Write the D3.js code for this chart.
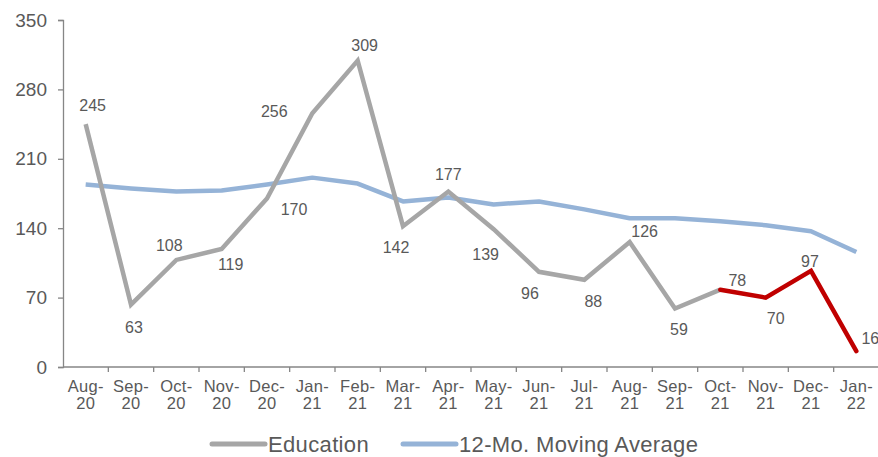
<!DOCTYPE html>
<html>
<head>
<meta charset="utf-8">
<script src="https://cdn.jsdelivr.net/npm/d3@7"></script>
<style>
  body { margin: 0; background: #fff; }
  svg { display: block; font-family: 'Liberation Sans', Arial, sans-serif; }
</style>
</head>
<body>
<div id="chart"></div>
<script>
// data
const months = ['Aug-20', 'Sep-20', 'Oct-20', 'Nov-20', 'Dec-20', 'Jan-21', 'Feb-21', 'Mar-21', 'Apr-21',
    'May-21', 'Jun-21', 'Jul-21', 'Aug-21', 'Sep-21', 'Oct-21', 'Nov-21', 'Dec-21', 'Jan-22'];
const education = [245, 63, 108, 119, 170, 256, 309, 142, 177, 139, 96, 88, 126, 59, 78, 70, 97, 16];
const movingAvg = [184, 180, 177, 178, 184, 191, 185, 167, 171, 164, 167, 159, 150, 150, 147, 143, 137, 116];
const yTicks = [0, 70, 140, 210, 280, 350];
const highlightFrom = 'Oct-21'; // last months drawn in red
const seriesNames = ['Education', '12-Mo. Moving Average'];

// label nudges [dx, dy] relative to each point (as placed in the original)
const labelNudge = [[7, -19], [3, 23], [-7, -15], [9, 15], [27, 11], [-38, -2], [7, -15], [-7, 21], [0, -17],
    [-8, 25], [-9, 22], [9, 22], [15, -11], [4, 21], [17, -9], [10, 21], [-1, -9], [14, -13]];

const width = 878, height = 457;
const margin = { top: 20, right: -1, bottom: 90, left: 63 };
const textColor = '#595959', axisColor = '#868686';

const svg = d3.select('#chart').append('svg')
    .attr('width', width)
    .attr('height', height);

const x = d3.scaleBand().domain(months).range([margin.left, width - margin.right]);
const y = d3.scaleLinear().domain([0, 350]).range([height - margin.bottom, margin.top]);
const cx = d => x(d) + x.bandwidth() / 2;

const rows = months.map((m, i) => ({ m: m, edu: education[i], avg: movingAvg[i], i: i }));
const hi = months.indexOf(highlightFrom);

// y axis
const yAxis = svg.append('g')
    .attr('transform', 'translate(' + margin.left + ',0)')
    .call(d3.axisLeft(y).tickValues(yTicks).tickSize(5).tickPadding(11));
yAxis.selectAll('line, path').attr('stroke', axisColor).attr('stroke-width', 1.3);
yAxis.selectAll('text').attr('fill', textColor).style('font-size', '19px');

// x axis, ticks sit between categories
const xAxis = svg.append('g')
    .attr('transform', 'translate(0,' + y(0) + ')');
xAxis.append('line')
    .attr('x1', margin.left).attr('x2', width)
    .attr('stroke', axisColor).attr('stroke-width', 1.3);
xAxis.selectAll('.tick')
    .data(months.slice(1))
    .enter().append('line')
    .attr('x1', d => x(d)).attr('x2', d => x(d))
    .attr('y1', 0).attr('y2', 5)
    .attr('stroke', axisColor).attr('stroke-width', 1.3);
const xl = xAxis.selectAll('.xlab')
    .data(months)
    .enter().append('text')
    .attr('text-anchor', 'middle')
    .attr('fill', textColor)
    .style('font-size', '16.5px')
    .style('letter-spacing', '0.3px');
xl.append('tspan').attr('x', d => cx(d)).attr('y', 25).text(d => d.split('-')[0] + '-');
xl.append('tspan').attr('x', d => cx(d)).attr('y', 42).text(d => d.split('-')[1]);

const line = d3.line().x(d => cx(d.m));

// moving average
svg.append('path')
    .datum(rows)
    .attr('fill', 'none')
    .attr('stroke', '#95b3d7')
    .attr('stroke-width', 4.5)
    .attr('stroke-linejoin', 'round')
    .attr('d', line.y(d => y(d.avg)));

// education, grey then red
svg.append('path')
    .datum(rows.slice(0, hi + 1))
    .attr('fill', 'none')
    .attr('stroke', '#a6a6a6')
    .attr('stroke-width', 4.5)
    .attr('d', line.y(d => y(d.edu)));

svg.append('path')
    .datum(rows.slice(hi))
    .attr('fill', 'none')
    .attr('stroke', '#c00000')
    .attr('stroke-width', 4.5)
    .attr('stroke-linecap', 'round')
    .attr('d', line.y(d => y(d.edu)));

// data labels
svg.selectAll('.lbl')
    .data(rows)
    .enter().append('text')
    .attr('x', d => cx(d.m) + labelNudge[d.i][0])
    .attr('y', d => y(d.edu) + labelNudge[d.i][1])
    .attr('dy', '0.35em')
    .attr('text-anchor', 'middle')
    .attr('fill', textColor)
    .style('font-size', '16px')
    .text(d => d.edu);

// legend
const legend = svg.append('g').attr('transform', 'translate(0,444)');
const legendItems = [
    { name: seriesNames[0], color: '#a6a6a6', x: 212 },
    { name: seriesNames[1], color: '#95b3d7', x: 403 }
];
legendItems.forEach(function (d) {
    legend.append('line')
        .attr('x1', d.x).attr('x2', d.x + 53)
        .attr('stroke', d.color)
        .attr('stroke-width', 5)
        .attr('stroke-linecap', 'round');
    legend.append('text')
        .attr('x', d.x + 56)
        .attr('y', 8)
        .attr('fill', textColor)
        .style('font-size', '22px')
        .style('letter-spacing', '0.35px')
        .text(d.name);
});
</script>
</body>
</html>
